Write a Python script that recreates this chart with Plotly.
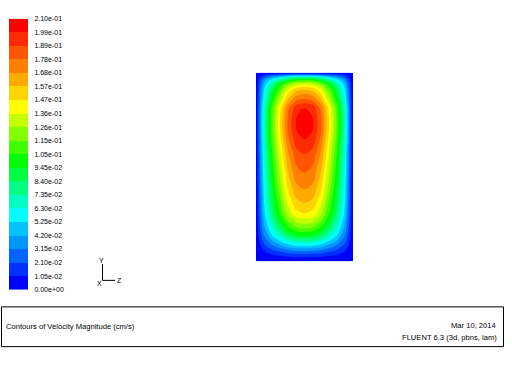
import plotly.graph_objects as go

# ---------------- data ----------------
# horizontal (Z) coordinate across the section, mm
Z_MM = [0, 1.55, 4.1, 8.25, 12.4, 16.5, 20.6, 25, 29.4, 33.5, 37.6, 41.75, 45.9, 48.45, 50]
# vertical (Y) coordinate, mm
Y_MM = [0, 2.6, 5.2, 9.4, 13.5, 17.2, 22.4, 25.5, 30.7, 38, 46.4, 56.8, 64.6, 68.8,
        72.9, 77.1, 81.3, 82.8, 84.9, 87.5, 90.6, 93.2, 94.8, 96.4, 97.9, 99, 100]
# velocity magnitude, rows follow Y_MM, columns follow Z_MM
VEL = [
    [0, 0, 0, 0, 0, 0, 0, 0, 0, 0, 0, 0, 0, 0, 0],
    [0, .0017, .0043, .0072, .0094, .0114, .0127, .0130, .0127, .0114, .0094, .0072, .0043, .0017, 0],
    [0, .0039, .0099, .0165, .0216, .0264, .0293, .0300, .0293, .0264, .0216, .0165, .0099, .0039, 0],
    [0, .0082, .0208, .0347, .0454, .0554, .0614, .0630, .0614, .0554, .0454, .0347, .0208, .0082, 0],
    [0, .0122, .0310, .0517, .0677, .0827, .0917, .0940, .0917, .0827, .0677, .0517, .0310, .0122, 0],
    [0, .0150, .0380, .0633, .0828, .1012, .1121, .1150, .1121, .1012, .0828, .0633, .0380, .0150, 0],
    [0, .0177, .0449, .0748, .0979, .1197, .1326, .1360, .1326, .1197, .0979, .0748, .0449, .0177, 0],
    [0, .0191, .0485, .0809, .1058, .1294, .1433, .1470, .1433, .1294, .1058, .0809, .0485, .0191, 0],
    [0, .0204, .0518, .0864, .1130, .1382, .1531, .1570, .1531, .1382, .1130, .0864, .0518, .0204, 0],
    [0, .0218, .0554, .0924, .1210, .1478, .1638, .1680, .1638, .1478, .1210, .0924, .0554, .0218, 0],
    [0, .0231, .0587, .0979, .1282, .1566, .1736, .1780, .1736, .1566, .1282, .0979, .0587, .0231, 0],
    [0, .0246, .0624, .1040, .1361, .1663, .1843, .1890, .1843, .1663, .1361, .1040, .0624, .0246, 0],
    [0, .0259, .0658, .1097, .1436, .1756, .1945, .1994, .1945, .1756, .1436, .1097, .0658, .0259, 0],
    [0, .0265, .0673, .1122, .1469, .1795, .1989, .2040, .1989, .1795, .1469, .1122, .0673, .0265, 0],
    [0, .0267, .0677, .1128, .1476, .1804, .1999, .2050, .1999, .1804, .1476, .1128, .0677, .0267, 0],
    [0, .0265, .0673, .1122, .1469, .1795, .1989, .2040, .1989, .1795, .1469, .1122, .0673, .0265, 0],
    [0, .0259, .0658, .1097, .1436, .1756, .1945, .1994, .1945, .1756, .1436, .1097, .0658, .0259, 0],
    [0, .0252, .0640, .1067, .1397, .1707, .1892, .1940, .1892, .1707, .1397, .1067, .0640, .0252, 0],
    [0, .0239, .0607, .1012, .1325, .1619, .1794, .1840, .1794, .1619, .1325, .1012, .0607, .0239, 0],
    [0, .0225, .0571, .0952, .1246, .1522, .1687, .1730, .1687, .1522, .1246, .0952, .0571, .0225, 0],
    [0, .0208, .0528, .0880, .1152, .1408, .1560, .1600, .1560, .1408, .1152, .0880, .0528, .0208, 0],
    [0, .0185, .0469, .0781, .1022, .1250, .1385, .1420, .1385, .1250, .1022, .0781, .0469, .0185, 0],
    [0, .0163, .0413, .0688, .0900, .1100, .1219, .1250, .1219, .1100, .0900, .0688, .0413, .0163, 0],
    [0, .0130, .0330, .0550, .0720, .0880, .0975, .1000, .0975, .0880, .0720, .0550, .0330, .0130, 0],
    [0, .0085, .0215, .0358, .0468, .0572, .0634, .0650, .0634, .0572, .0468, .0358, .0215, .0085, 0],
    [0, .0039, .0099, .0165, .0216, .0264, .0293, .0300, .0293, .0264, .0216, .0165, .0099, .0039, 0],
    [0, 0, 0, 0, 0, 0, 0, 0, 0, 0, 0, 0, 0, 0, 0],
]

# contour levels (colour bar boundaries) and their labels
LEVELS = [0.0, 0.0105, 0.021, 0.0315, 0.042, 0.0525, 0.063, 0.0735, 0.084, 0.0945, 0.105,
          0.1155, 0.126, 0.1365, 0.147, 0.1575, 0.168, 0.1785, 0.189, 0.1995, 0.21]
TICK_LABELS = ["0.00e+00", "1.05e-02", "2.10e-02", "3.15e-02", "4.20e-02", "5.25e-02",
               "6.30e-02", "7.35e-02", "8.40e-02", "9.45e-02", "1.05e-01", "1.15e-01",
               "1.26e-01", "1.36e-01", "1.47e-01", "1.57e-01", "1.68e-01", "1.78e-01",
               "1.89e-01", "1.99e-01", "2.10e-01"]
# band colours, bottom (lowest) to top
BAND_COLORS = ["#0000ff", "#0032ff", "#0064ff", "#0096ff", "#00c3ff", "#00ffff",
               "#00ffc3", "#00ff82", "#00ff41", "#00ff00", "#41ff00", "#82ff00",
               "#c3ff00", "#ffff00", "#ffd400", "#ffaa00", "#ff8000", "#ff5500",
               "#ff2b00", "#ff0000"]

# ---------------- derived helpers ----------------
NB = len(BAND_COLORS)
# contour fill colours are sampled at level + size/2 -> colorscale positions (k+1)/(NB+1)
contour_scale = [[0.0, BAND_COLORS[0]]]
for k, c in enumerate(BAND_COLORS):
    contour_scale.append([(k + 1) / (NB + 1), c])
contour_scale.append([1.0, BAND_COLORS[-1]])

# stepped scale for the legend bar
step_scale = []
for k, c in enumerate(BAND_COLORS):
    step_scale.append([k / NB, c])
    step_scale.append([(k + 1) / NB, c])
mids = [(LEVELS[k] + LEVELS[k + 1]) / 2 for k in range(NB)]

W, H = 512, 384
def px(x):
    return x / W
def py(y):
    return 1 - y / H

FONT = "Liberation Sans, Arial, sans-serif"

fig = go.Figure()
fig.add_trace(go.Contour(
    x=Z_MM, y=Y_MM, z=VEL,
    autocontour=False,
    contours=dict(start=LEVELS[0], end=LEVELS[-1], size=LEVELS[1] - LEVELS[0],
                  coloring="fill", showlines=False),
    line=dict(width=0, smoothing=1.0),
    colorscale=contour_scale, showscale=False, hoverinfo="skip",
))
fig.add_trace(go.Heatmap(
    x=[0], y=mids, z=[[m] for m in mids], zmin=LEVELS[0], zmax=LEVELS[-1],
    colorscale=step_scale, showscale=False, xaxis="x2", yaxis="y2", hoverinfo="skip",
))

fig.update_layout(
    width=W, height=H, margin=dict(l=0, r=0, t=0, b=0),
    paper_bgcolor="white", plot_bgcolor="white", showlegend=False,
    font=dict(family=FONT, color="black", size=7),
    xaxis=dict(domain=[px(256), px(353)], range=[Z_MM[0], Z_MM[-1]], visible=False),
    yaxis=dict(domain=[py(262), py(70)], range=[Y_MM[0], Y_MM[-1]], visible=False),
    xaxis2=dict(domain=[px(9), px(28)], range=[-0.5, 0.5], visible=False, anchor="y2"),
    yaxis2=dict(domain=[py(291), py(15)], range=[LEVELS[0], LEVELS[-1]], anchor="x2",
                side="right", tickvals=LEVELS, ticktext=TICK_LABELS,
                ticks="outside", ticklen=4, tickcolor="rgba(0,0,0,0)",
                showgrid=False, zeroline=False, showline=False,
                tickfont=dict(family=FONT, size=7, color="black")),
)

shapes = [
    dict(type="rect", xref="paper", yref="paper", x0=px(1.5), x1=px(503.5),
         y0=py(349), y1=py(308.5), line=dict(color="black", width=1)),
    dict(type="line", xref="paper", yref="paper", x0=px(102.5), x1=px(102.5),
         y0=py(265), y1=py(281.5), line=dict(color="black", width=1)),
    dict(type="line", xref="paper", yref="paper", x0=px(102.5), x1=px(115),
         y0=py(281.5), y1=py(281.5), line=dict(color="black", width=1)),
]
fig.update_layout(shapes=shapes)

def ann(text, x, y, xa="left", size=7.6):
    return dict(text=text, x=px(x), y=py(y), xref="paper", yref="paper",
                xanchor=xa, yanchor="middle", showarrow=False,
                font=dict(family=FONT, size=size, color="black"))

fig.update_layout(annotations=[
    ann("Contours of Velocity Magnitude (cm/s)", 4, 328),
    ann("Mar 10, 2014", 498, 327.5, "right"),
    ann("FLUENT 6.3 (3d, pbns, lam)", 499, 339.5, "right"),
    ann("Y", 101.5, 261, "center", 7),
    ann("X", 99, 285, "center", 7),
    ann("Z", 119, 281.5, "center", 7),
])

fig.write_html("out.html")
